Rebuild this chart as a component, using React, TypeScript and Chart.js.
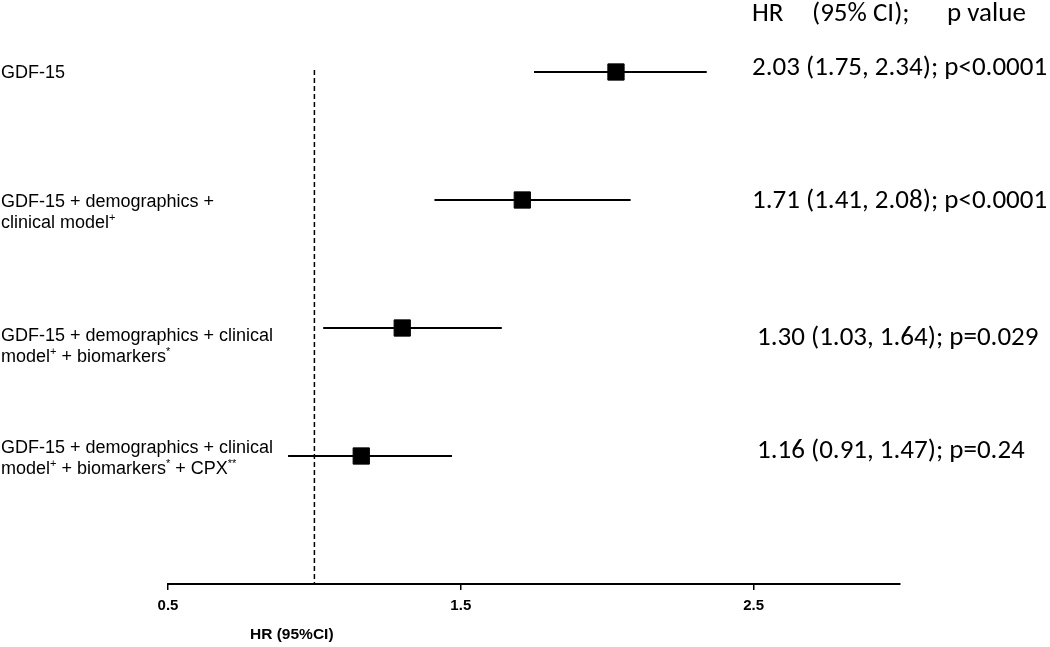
import React, { useEffect, useRef } from "react";
import { Chart, registerables } from "chart.js";

Chart.register(...registerables);

// "^{...}" marks superscript text
const labels: string[][] = [
  ["GDF-15"],
  ["GDF-15 + demographics +", "clinical model^{+}"],
  ["GDF-15 + demographics + clinical", "model^{+} + biomarkers^{*}"],
  ["GDF-15 + demographics + clinical", "model^{+} + biomarkers^{*} + CPX^{**}"],
];
const hr = [2.03, 1.71, 1.3, 1.16];
const lower = [1.75, 1.41, 1.03, 0.91];
const upper = [2.34, 2.08, 1.64, 1.47];
const resultText = [
  "2.03 (1.75, 2.34); p<0.0001",
  "1.71 (1.41, 2.08); p<0.0001",
  "1.30 (1.03, 1.64); p=0.029",
  "1.16 (0.91, 1.47); p=0.24",
];
const headerParts = ["HR", "(95% CI);", "p value"];
const xTicks = [0.5, 1.5, 2.5];
const refValue = 1.0;
const xTitle = "HR (95%CI)";

// layout-only tweaks (pixel offsets for text)
const labelDy = [1, 2, 8, -8];
const resultDy = [-4, 1, 10, -5];
const resultX = [752, 752, 757, 757];
const headerX = [752, 812, 947];

function drawRich(ctx: CanvasRenderingContext2D, text: string, x: number, y: number) {
  const parts = text.split(/(\^\{[^}]*\})/).filter((p) => p.length);
  let cx = x;
  for (const p of parts) {
    if (p.startsWith("^{")) {
      const t = p.slice(2, -1);
      ctx.save();
      ctx.font = "11px 'Liberation Sans', Arial, sans-serif";
      ctx.fillText(t, cx, y - 5);
      cx += ctx.measureText(t).width;
      ctx.restore();
    } else {
      ctx.fillText(p, cx, y);
      cx += ctx.measureText(p).width;
    }
  }
}

const forestPlugin = {
  id: "forest",
  beforeDatasetsDraw(chart: any) {
    const { ctx, scales, chartArea } = chart;
    const xs = scales.x;
    const ys = scales.y;
    ctx.save();
    ctx.strokeStyle = "#000";
    ctx.lineWidth = 1.5;
    ctx.setLineDash([5, 3]);
    const rx = xs.getPixelForValue(refValue);
    ctx.beginPath();
    ctx.moveTo(rx, ys.getPixelForValue(1) - 2);
    ctx.lineTo(rx, chartArea.bottom);
    ctx.stroke();
    ctx.setLineDash([]);
    ctx.lineWidth = 2;
    for (let i = 0; i < hr.length; i++) {
      const y = ys.getPixelForValue(i + 1);
      ctx.beginPath();
      ctx.moveTo(xs.getPixelForValue(lower[i]), y);
      ctx.lineTo(xs.getPixelForValue(upper[i]), y);
      ctx.stroke();
    }
    ctx.restore();
  },
  afterDraw(chart: any) {
    const { ctx, scales } = chart;
    const ys = scales.y;
    ctx.save();
    ctx.fillStyle = "#000";
    ctx.textBaseline = "middle";
    ctx.textAlign = "left";
    ctx.font = "18px 'Liberation Sans', Arial, sans-serif";
    for (let i = 0; i < labels.length; i++) {
      const y = ys.getPixelForValue(i + 1) + labelDy[i];
      labels[i].forEach((line, j) => {
        drawRich(ctx, line, 1, y + j * 21);
      });
    }
    ctx.font = "27px Carlito, Lato, sans-serif";
    for (let i = 0; i < resultText.length; i++) {
      const y = ys.getPixelForValue(i + 1) + resultDy[i];
      ctx.fillText(resultText[i], resultX[i], y);
    }
    headerParts.forEach((p, k) => ctx.fillText(p, headerX[k], 14));
    ctx.font = "bold 15.5px 'Liberation Sans Narrow', 'Arial Narrow', sans-serif";
    ctx.fillText(xTitle, 250, 635);
    ctx.restore();
  },
};

export default function App() {
  const ref = useRef<HTMLCanvasElement>(null);
  useEffect(() => {
    if (!ref.current) return;
    const chart = new Chart(ref.current, {
      type: "scatter",
      data: {
        datasets: [
          {
            data: hr.map((v, i) => ({ x: v, y: i + 1 })),
            backgroundColor: "#000",
            borderColor: "#000",
            pointStyle: "rect",
            pointRadius: 11.5,
            pointHoverRadius: 11.5,
          },
        ],
      },
      options: {
        animation: false,
        responsive: false,
        maintainAspectRatio: false,
        layout: { autoPadding: false, padding: { left: 168, right: 150, top: 8, bottom: 0 } },
        plugins: { legend: { display: false }, tooltip: { enabled: false } },
        scales: {
          x: {
            type: "linear",
            min: 0.5,
            max: 3.0,
            afterBuildTicks: (s: any) => {
              s.ticks = xTicks.map((v) => ({ value: v }));
            },
            afterFit: (s: any) => {
              s.height = 63;
            },
            border: { display: true, color: "#000", width: 2 },
            grid: {
              display: true,
              drawOnChartArea: false,
              drawTicks: true,
              tickLength: 6,
              color: "#000",
              lineWidth: 1.5,
            },
            ticks: {
              color: "#000",
              padding: 7,
              maxRotation: 0,
              autoSkip: false,
              font: { family: "'Liberation Sans Narrow', 'Arial Narrow', sans-serif", weight: "bold", size: 15 },
              callback: (v: any) => Number(v).toFixed(1),
            },
          },
          y: {
            type: "linear",
            min: 0.5,
            max: 5,
            reverse: true,
            display: false,
          },
        },
      },
      plugins: [forestPlugin],
    });
    return () => chart.destroy();
  }, []);
  return (
    <div style={{ position: "fixed", left: 0, top: 0, width: 1050, height: 647, background: "#fff" }}>
      <canvas ref={ref} width={1050} height={647} style={{ display: "block" }} />
    </div>
  );
}
